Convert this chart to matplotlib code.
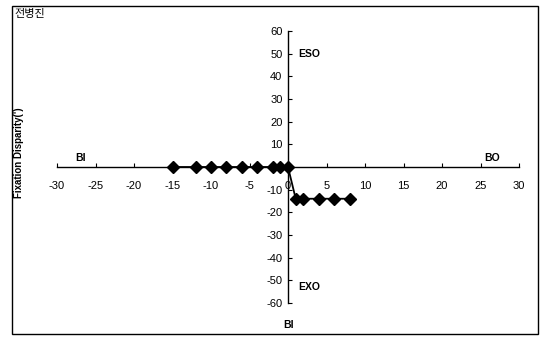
import matplotlib
matplotlib.use("Agg")
import matplotlib.pyplot as plt
from matplotlib.patches import Rectangle

plt.rcParams['font.family'] = ['Liberation Sans', 'Noto Sans CJK KR', 'DejaVu Sans']

x_vals = [-15, -12, -10, -8, -6, -4, -2, -1, 0, 1, 2, 4, 6, 8]
y_vals = [0, 0, 0, 0, 0, 0, 0, 0, 0, -14, -14, -14, -14, -14]
x_ticks = [-30, -25, -20, -15, -10, -5, 0, 5, 10, 15, 20, 25, 30]
y_ticks = [-60, -50, -40, -30, -20, -10, 0, 10, 20, 30, 40, 50, 60]
title = "전병진"
y_label = "Fixation Disparity(')"

W, H = 541, 338
fig = plt.figure(figsize=(W / 100, H / 100), dpi=100)
fig.patch.set_facecolor('white')

# chart border
fig.add_artist(Rectangle((12 / W, 1 - 334 / H), 526 / W, 328 / H,
                         transform=fig.transFigure, fill=False,
                         edgecolor='black', linewidth=1.0))

ax = fig.add_axes([57 / W, 1 - 303 / H, 462 / W, 272 / H])
ax.set_xlim(-30, 30)
ax.set_ylim(-60, 60)
for s in ['top', 'right']:
    ax.spines[s].set_visible(False)
ax.spines['left'].set_position(('data', 0))
ax.spines['bottom'].set_position(('data', 0))
ax.spines['left'].set_linewidth(1.0)
ax.spines['bottom'].set_linewidth(1.0)
ax.set_xticks(x_ticks)
ax.set_yticks(y_ticks)
ax.set_xticklabels([str(v) for v in x_ticks])
ax.set_yticklabels([str(v) for v in y_ticks])
ax.tick_params(direction='in', length=3, width=0.8, labelsize=8, pad=10)
ax.tick_params(axis='y', pad=4)
ax.patch.set_alpha(0)

ax.plot(x_vals, y_vals, color='black', linewidth=1.3, marker='D',
        markersize=6, markerfacecolor='black', markeredgecolor='black',
        clip_on=False, zorder=5)

bold = dict(fontsize=7.5, fontweight='bold', color='black')
ax.text(1.3, 50, "ESO", ha='left', va='center', **bold)
ax.text(1.3, -53, "EXO", ha='left', va='center', **bold)
ax.text(-27, 4, "BI", ha='center', va='center', **bold)
ax.text(26.5, 4, "BO", ha='center', va='center', **bold)

fig.text(288 / W, 1 - 325 / H, "BI", ha='center', va='center', **bold)
fig.text(19 / W, 1 - 153 / H, y_label, rotation=90, ha='center', va='center',
         fontsize=7, fontweight='bold', color='black')
fig.text(14 / W, 1 - 14 / H, title, ha='left', va='center', fontsize=8,
         family=['Noto Sans CJK KR', 'DejaVu Sans'])

fig.savefig("out.png", dpi=100)
